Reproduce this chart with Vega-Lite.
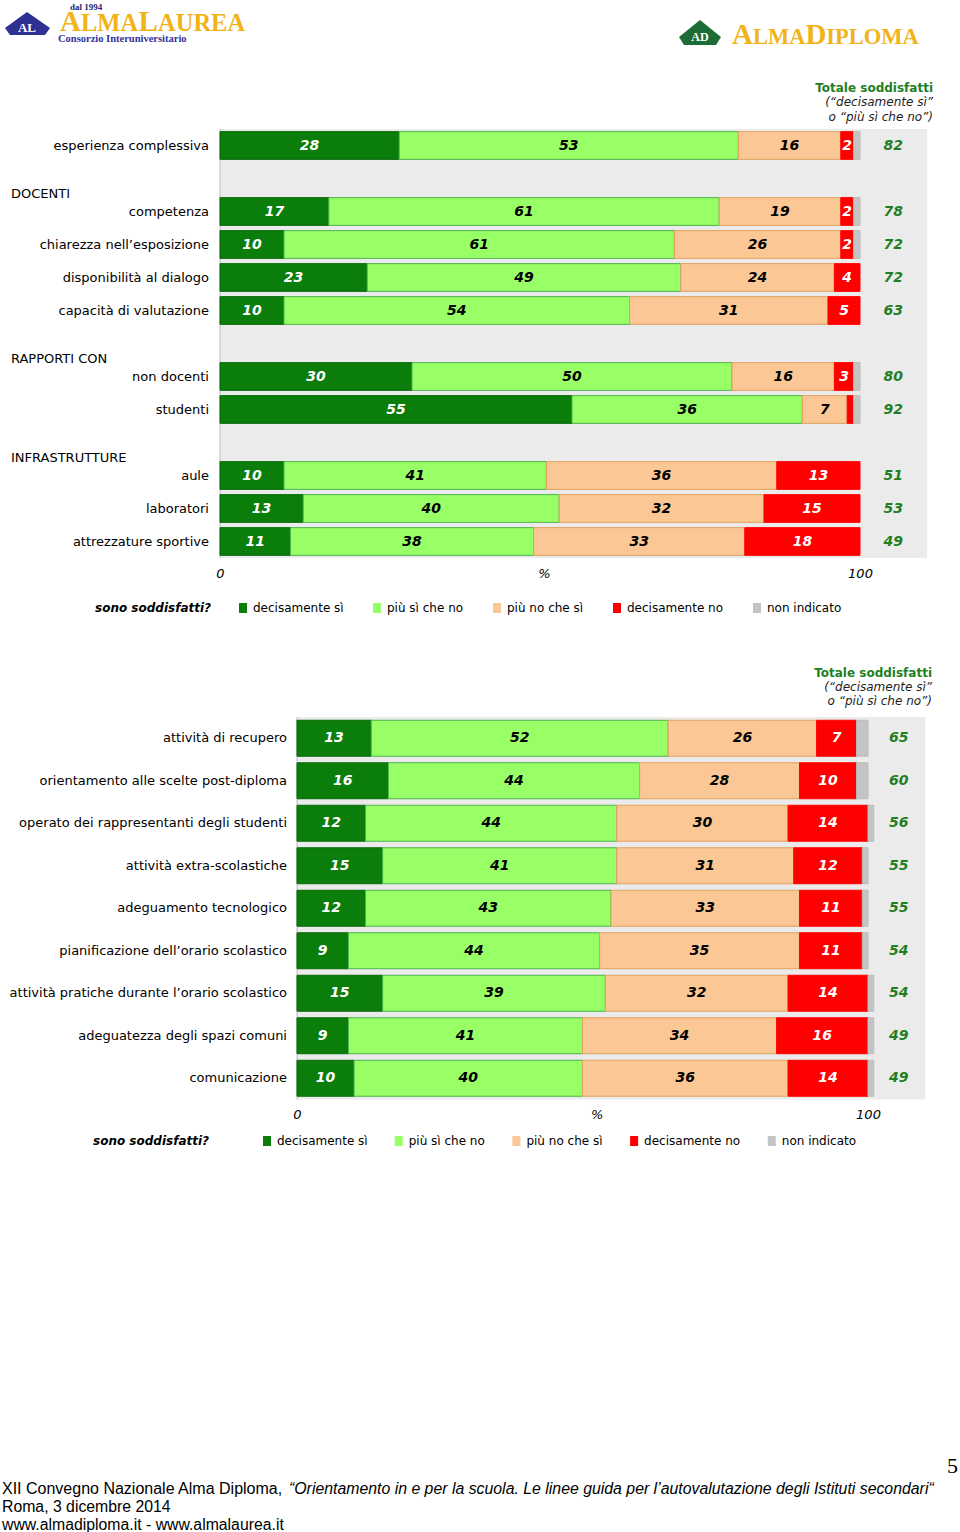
{
  "$schema": "https://vega.github.io/schema/vega-lite/v6.json",
  "padding": 0,
  "spacing": 0,
  "bounds": "flush",
  "background": "white",
  "config": {"view": {"stroke": null}, "font": "DejaVu Sans"},
  "resolve": {
    "scale": {"x": "independent", "y": "independent", "color": "independent", "stroke": "independent"},
    "legend": {"color": "independent"}
  },
  "datasets": {
    "top": [
      {"g": "esperienza complessiva", "c": "decisamente sì", "v": 28},
      {"g": "esperienza complessiva", "c": "più sì che no", "v": 53},
      {"g": "esperienza complessiva", "c": "più no che sì", "v": 16},
      {"g": "esperienza complessiva", "c": "decisamente no", "v": 2},
      {"g": "esperienza complessiva", "c": "non indicato", "v": 1},
      {"g": "competenza", "c": "decisamente sì", "v": 17},
      {"g": "competenza", "c": "più sì che no", "v": 61},
      {"g": "competenza", "c": "più no che sì", "v": 19},
      {"g": "competenza", "c": "decisamente no", "v": 2},
      {"g": "competenza", "c": "non indicato", "v": 1},
      {"g": "chiarezza nell’esposizione", "c": "decisamente sì", "v": 10},
      {"g": "chiarezza nell’esposizione", "c": "più sì che no", "v": 61},
      {"g": "chiarezza nell’esposizione", "c": "più no che sì", "v": 26},
      {"g": "chiarezza nell’esposizione", "c": "decisamente no", "v": 2},
      {"g": "chiarezza nell’esposizione", "c": "non indicato", "v": 1},
      {"g": "disponibilità al dialogo", "c": "decisamente sì", "v": 23},
      {"g": "disponibilità al dialogo", "c": "più sì che no", "v": 49},
      {"g": "disponibilità al dialogo", "c": "più no che sì", "v": 24},
      {"g": "disponibilità al dialogo", "c": "decisamente no", "v": 4},
      {"g": "capacità di valutazione", "c": "decisamente sì", "v": 10},
      {"g": "capacità di valutazione", "c": "più sì che no", "v": 54},
      {"g": "capacità di valutazione", "c": "più no che sì", "v": 31},
      {"g": "capacità di valutazione", "c": "decisamente no", "v": 5},
      {"g": "non docenti", "c": "decisamente sì", "v": 30},
      {"g": "non docenti", "c": "più sì che no", "v": 50},
      {"g": "non docenti", "c": "più no che sì", "v": 16},
      {"g": "non docenti", "c": "decisamente no", "v": 3},
      {"g": "non docenti", "c": "non indicato", "v": 1},
      {"g": "studenti", "c": "decisamente sì", "v": 55},
      {"g": "studenti", "c": "più sì che no", "v": 36},
      {"g": "studenti", "c": "più no che sì", "v": 7},
      {"g": "studenti", "c": "decisamente no", "v": 1},
      {"g": "studenti", "c": "non indicato", "v": 1},
      {"g": "aule", "c": "decisamente sì", "v": 10},
      {"g": "aule", "c": "più sì che no", "v": 41},
      {"g": "aule", "c": "più no che sì", "v": 36},
      {"g": "aule", "c": "decisamente no", "v": 13},
      {"g": "laboratori", "c": "decisamente sì", "v": 13},
      {"g": "laboratori", "c": "più sì che no", "v": 40},
      {"g": "laboratori", "c": "più no che sì", "v": 32},
      {"g": "laboratori", "c": "decisamente no", "v": 15},
      {"g": "attrezzature sportive", "c": "decisamente sì", "v": 11},
      {"g": "attrezzature sportive", "c": "più sì che no", "v": 38},
      {"g": "attrezzature sportive", "c": "più no che sì", "v": 33},
      {"g": "attrezzature sportive", "c": "decisamente no", "v": 18}
    ],
    "topTot": [
      {"g": "esperienza complessiva", "tot": 82},
      {"g": "competenza", "tot": 78},
      {"g": "chiarezza nell’esposizione", "tot": 72},
      {"g": "disponibilità al dialogo", "tot": 72},
      {"g": "capacità di valutazione", "tot": 63},
      {"g": "non docenti", "tot": 80},
      {"g": "studenti", "tot": 92},
      {"g": "aule", "tot": 51},
      {"g": "laboratori", "tot": 53},
      {"g": "attrezzature sportive", "tot": 49}
    ],
    "topHead": [
      {"g": "_s1", "h": "DOCENTI"},
      {"g": "_s2", "h": "RAPPORTI CON"},
      {"g": "_s3", "h": "INFRASTRUTTURE"}
    ],
    "bot": [
      {"g": "attività di recupero", "c": "decisamente sì", "v": 13},
      {"g": "attività di recupero", "c": "più sì che no", "v": 52},
      {"g": "attività di recupero", "c": "più no che sì", "v": 26},
      {"g": "attività di recupero", "c": "decisamente no", "v": 7},
      {"g": "attività di recupero", "c": "non indicato", "v": 2},
      {"g": "orientamento alle scelte post-diploma", "c": "decisamente sì", "v": 16},
      {"g": "orientamento alle scelte post-diploma", "c": "più sì che no", "v": 44},
      {"g": "orientamento alle scelte post-diploma", "c": "più no che sì", "v": 28},
      {"g": "orientamento alle scelte post-diploma", "c": "decisamente no", "v": 10},
      {"g": "orientamento alle scelte post-diploma", "c": "non indicato", "v": 2},
      {"g": "operato dei rappresentanti degli studenti", "c": "decisamente sì", "v": 12},
      {"g": "operato dei rappresentanti degli studenti", "c": "più sì che no", "v": 44},
      {"g": "operato dei rappresentanti degli studenti", "c": "più no che sì", "v": 30},
      {"g": "operato dei rappresentanti degli studenti", "c": "decisamente no", "v": 14},
      {"g": "operato dei rappresentanti degli studenti", "c": "non indicato", "v": 1},
      {"g": "attività extra-scolastiche", "c": "decisamente sì", "v": 15},
      {"g": "attività extra-scolastiche", "c": "più sì che no", "v": 41},
      {"g": "attività extra-scolastiche", "c": "più no che sì", "v": 31},
      {"g": "attività extra-scolastiche", "c": "decisamente no", "v": 12},
      {"g": "attività extra-scolastiche", "c": "non indicato", "v": 1},
      {"g": "adeguamento tecnologico", "c": "decisamente sì", "v": 12},
      {"g": "adeguamento tecnologico", "c": "più sì che no", "v": 43},
      {"g": "adeguamento tecnologico", "c": "più no che sì", "v": 33},
      {"g": "adeguamento tecnologico", "c": "decisamente no", "v": 11},
      {"g": "adeguamento tecnologico", "c": "non indicato", "v": 1},
      {"g": "pianificazione dell’orario scolastico", "c": "decisamente sì", "v": 9},
      {"g": "pianificazione dell’orario scolastico", "c": "più sì che no", "v": 44},
      {"g": "pianificazione dell’orario scolastico", "c": "più no che sì", "v": 35},
      {"g": "pianificazione dell’orario scolastico", "c": "decisamente no", "v": 11},
      {"g": "pianificazione dell’orario scolastico", "c": "non indicato", "v": 1},
      {"g": "attività pratiche durante l’orario scolastico", "c": "decisamente sì", "v": 15},
      {"g": "attività pratiche durante l’orario scolastico", "c": "più sì che no", "v": 39},
      {"g": "attività pratiche durante l’orario scolastico", "c": "più no che sì", "v": 32},
      {"g": "attività pratiche durante l’orario scolastico", "c": "decisamente no", "v": 14},
      {"g": "attività pratiche durante l’orario scolastico", "c": "non indicato", "v": 1},
      {"g": "adeguatezza degli spazi comuni", "c": "decisamente sì", "v": 9},
      {"g": "adeguatezza degli spazi comuni", "c": "più sì che no", "v": 41},
      {"g": "adeguatezza degli spazi comuni", "c": "più no che sì", "v": 34},
      {"g": "adeguatezza degli spazi comuni", "c": "decisamente no", "v": 16},
      {"g": "adeguatezza degli spazi comuni", "c": "non indicato", "v": 1},
      {"g": "comunicazione", "c": "decisamente sì", "v": 10},
      {"g": "comunicazione", "c": "più sì che no", "v": 40},
      {"g": "comunicazione", "c": "più no che sì", "v": 36},
      {"g": "comunicazione", "c": "decisamente no", "v": 14},
      {"g": "comunicazione", "c": "non indicato", "v": 1}
    ],
    "botTot": [
      {"g": "attività di recupero", "tot": 65},
      {"g": "orientamento alle scelte post-diploma", "tot": 60},
      {"g": "operato dei rappresentanti degli studenti", "tot": 56},
      {"g": "attività extra-scolastiche", "tot": 55},
      {"g": "adeguamento tecnologico", "tot": 55},
      {"g": "pianificazione dell’orario scolastico", "tot": 54},
      {"g": "attività pratiche durante l’orario scolastico", "tot": 54},
      {"g": "adeguatezza degli spazi comuni", "tot": 49},
      {"g": "comunicazione", "tot": 49}
    ]
  },
  "vconcat": [
    {
      "width": 960,
      "height": 128.5,
      "encoding": {
        "x": {"field": "side", "type": "nominal", "scale": {"type": "point", "domain": ["left", "right"], "padding": 0}, "axis": null}
      },
      "layer": [
        {"data": {"values": [{"side": "left"}]}, "mark": {"type": "point", "filled": true, "opacity": 1, "size": 2500, "color": "#2E3192", "strokeWidth": 0, "shape": "M1.08,-2.09L2,-1.45L1.8,-1.17L0.4,-1.17L0.2,-1.45Z"}},
        {"data": {"values": [{"side": "right"}]}, "mark": {"type": "point", "filled": true, "opacity": 1, "size": 2500, "color": "#1D6B35", "strokeWidth": 0, "shape": "M-10.4,-1.77L-9.56,-1.09L-9.76,-0.77L-11.04,-0.77L-11.24,-1.09Z"}},
        {"data": {"values": [{"side": "left", "t": "AL"}]}, "mark": {"type": "text", "align": "center", "baseline": "middle", "dx": 27, "dy": -36.5, "font": "Liberation Serif", "fontWeight": "bold", "fontSize": 13, "color": "white"}, "encoding": {"text": {"field": "t"}}},
        {"data": {"values": [{"side": "right", "t": "AD"}]}, "mark": {"type": "text", "align": "center", "baseline": "middle", "dx": -260, "dy": -27, "font": "Liberation Serif", "fontWeight": "bold", "fontSize": 12, "color": "white"}, "encoding": {"text": {"field": "t"}}},
        {"data": {"values": [{"side": "left", "t": "dal 1994"}]}, "mark": {"type": "text", "align": "left", "baseline": "alphabetic", "dx": 70, "dy": -54.75, "font": "Liberation Serif", "fontWeight": "bold", "fontSize": 9, "color": "#26266B"}, "encoding": {"text": {"field": "t"}}},
        {"data": {"values": [{"side": "left", "t": "A"}]}, "mark": {"type": "text", "align": "left", "baseline": "alphabetic", "dx": 60, "dy": -33.25, "font": "Liberation Serif", "fontWeight": "bold", "fontSize": 29, "color": "#F2B318"}, "encoding": {"text": {"field": "t"}}},
        {"data": {"values": [{"side": "left", "t": "LMA"}]}, "mark": {"type": "text", "align": "left", "baseline": "alphabetic", "dx": 81, "dy": -33.25, "font": "Liberation Serif", "fontWeight": "bold", "fontSize": 24.5, "color": "#F2B318"}, "encoding": {"text": {"field": "t"}}},
        {"data": {"values": [{"side": "left", "t": "L"}]}, "mark": {"type": "text", "align": "left", "baseline": "alphabetic", "dx": 138.5, "dy": -33.25, "font": "Liberation Serif", "fontWeight": "bold", "fontSize": 29, "color": "#F2B318"}, "encoding": {"text": {"field": "t"}}},
        {"data": {"values": [{"side": "left", "t": "AUREA"}]}, "mark": {"type": "text", "align": "left", "baseline": "alphabetic", "dx": 158, "dy": -33.25, "font": "Liberation Serif", "fontWeight": "bold", "fontSize": 24.5, "color": "#F2B318"}, "encoding": {"text": {"field": "t"}}},
        {"data": {"values": [{"side": "left", "t": "Consorzio Interuniversitario"}]}, "mark": {"type": "text", "align": "left", "baseline": "alphabetic", "dx": 58, "dy": -22, "font": "Liberation Serif", "fontWeight": "bold", "fontSize": 10.5, "color": "#333399"}, "encoding": {"text": {"field": "t"}}},
        {"data": {"values": [{"side": "right", "t": "A"}]}, "mark": {"type": "text", "align": "left", "baseline": "alphabetic", "dx": -228, "dy": -20.25, "font": "Liberation Serif", "fontWeight": "bold", "fontSize": 29, "color": "#F2B318"}, "encoding": {"text": {"field": "t"}}},
        {"data": {"values": [{"side": "right", "t": "LMA"}]}, "mark": {"type": "text", "align": "left", "baseline": "alphabetic", "dx": -207.1, "dy": -20.25, "font": "Liberation Serif", "fontWeight": "bold", "fontSize": 22.5, "color": "#F2B318"}, "encoding": {"text": {"field": "t"}}},
        {"data": {"values": [{"side": "right", "t": "D"}]}, "mark": {"type": "text", "align": "left", "baseline": "alphabetic", "dx": -154.6, "dy": -20.25, "font": "Liberation Serif", "fontWeight": "bold", "fontSize": 29, "color": "#F2B318"}, "encoding": {"text": {"field": "t"}}},
        {"data": {"values": [{"side": "right", "t": "IPLOMA"}]}, "mark": {"type": "text", "align": "left", "baseline": "alphabetic", "dx": -133.7, "dy": -20.25, "font": "Liberation Serif", "fontWeight": "bold", "fontSize": 22.5, "color": "#F2B318"}, "encoding": {"text": {"field": "t"}}}
      ]
    },
    {
      "width": 960,
      "height": 429,
      "title": {
        "text": "Totale soddisfatti",
        "subtitle": ["(“decisamente sì”", "o “più sì che no”)"],
        "anchor": "end", "frame": "group", "orient": "top", "dx": -27, "offset": 5,
        "font": "DejaVu Sans", "fontSize": 12, "fontWeight": "bold", "color": "#1F7F1F",
        "subtitleFont": "DejaVu Sans", "subtitleFontSize": 12, "subtitleFontStyle": "italic", "subtitleColor": "#222222",
        "subtitlePadding": 2, "subtitleLineHeight": 14.5
      },
      "layer": [
        {"data": {"values": [{}]}, "mark": {"type": "rect", "color": "#EBEBEB"}, "encoding": {"x": {"datum": 0}, "x2": {"datum": 110.5}}},
        {"data": {"values": [{}]}, "mark": {"type": "rule", "color": "#BDBDBD", "strokeWidth": 1}, "encoding": {"x": {"datum": 0}}},
        {
          "data": {"name": "top"},
          "transform": [
            {"calculate": "indexof(['decisamente sì','più sì che no','più no che sì','decisamente no','non indicato'], datum.c)", "as": "o"},
            {"stack": "v", "groupby": ["g"], "sort": [{"field": "o", "order": "ascending"}], "as": ["v0", "v1"]}
          ],
          "mark": {"type": "bar", "strokeWidth": 1},
          "encoding": {
            "y": {"field": "g", "type": "nominal", "scale": {"domain": ["esperienza complessiva", "_s1", "competenza", "chiarezza nell’esposizione", "disponibilità al dialogo", "capacità di valutazione", "_s2", "non docenti", "studenti", "_s3", "aule", "laboratori", "attrezzature sportive"], "paddingInner": 0.16, "paddingOuter": 0.08}, "axis": null},
            "x": {"field": "v0", "type": "quantitative", "scale": {"domain": [-34.375, 115.625], "nice": false, "zero": false},
              "axis": {"values": [0, 50.6, 100], "labelExpr": "datum.value == 0 ? '0' : datum.value == 100 ? '100' : '%'", "title": null, "grid": false, "domain": false, "ticks": false, "labelPadding": 9, "labelFont": "DejaVu Sans", "labelFontSize": 13, "labelFontStyle": "italic", "labelColor": "black"}},
            "x2": {"field": "v1"},
            "color": {"field": "c", "type": "nominal",
              "scale": {"domain": ["decisamente sì", "più sì che no", "più no che sì", "decisamente no", "non indicato"], "range": ["#0A7D0A", "#99FF66", "#FBC794", "#FF0000", "#C4C4C4"]},
              "legend": {"orient": "none", "legendX": 95, "legendY": 473, "direction": "horizontal", "title": "sono soddisfatti?", "titleOrient": "left", "titleFont": "DejaVu Sans", "titleFontSize": 12, "titleFontWeight": "bold", "titleFontStyle": "italic", "titleColor": "black", "titlePadding": 25, "labelFont": "DejaVu Sans", "labelFontSize": 12, "labelColor": "black", "symbolType": "M-0.8,-1H0.8V1H-0.8Z", "symbolSize": 100, "symbolStrokeWidth": 0, "labelOffset": 4, "columnPadding": 27}},
            "stroke": {"field": "c", "type": "nominal",
              "scale": {"domain": ["decisamente sì", "più sì che no", "più no che sì", "decisamente no", "non indicato"], "range": ["#076A07", "#4CB34C", "#E3A15E", "#FF0000", "#BBBBBB"]},
              "legend": null}
          }
        },
        {
          "data": {"name": "top"},
          "transform": [
            {"calculate": "indexof(['decisamente sì','più sì che no','più no che sì','decisamente no','non indicato'], datum.c)", "as": "o"},
            {"stack": "v", "groupby": ["g"], "sort": [{"field": "o", "order": "ascending"}], "as": ["v0", "v1"]},
            {"calculate": "(datum.v0 + datum.v1) / 2", "as": "m"},
            {"filter": "datum.v >= 2 && datum.c != 'non indicato'"}
          ],
          "mark": {"type": "text", "align": "center", "baseline": "middle", "font": "DejaVu Sans", "fontSize": 14, "fontWeight": "bold", "fontStyle": "italic"},
          "encoding": {
            "y": {"field": "g", "type": "nominal"},
            "x": {"field": "m", "type": "quantitative"},
            "text": {"field": "v"},
            "color": {"condition": {"test": "datum.c == 'decisamente sì' || datum.c == 'decisamente no'", "value": "white"}, "value": "black"}
          }
        },
        {
          "data": {"name": "topTot"},
          "mark": {"type": "text", "align": "right", "baseline": "middle", "font": "DejaVu Sans", "fontSize": 13, "color": "black"},
          "encoding": {"x": {"datum": -1.72}, "y": {"field": "g", "type": "nominal"}, "text": {"field": "g"}}
        },
        {
          "data": {"name": "topHead"},
          "mark": {"type": "text", "align": "left", "baseline": "middle", "dy": 15, "font": "DejaVu Sans", "fontSize": 13, "color": "black"},
          "encoding": {"x": {"datum": -32.66}, "y": {"field": "g", "type": "nominal"}, "text": {"field": "h"}}
        },
        {
          "data": {"name": "topTot"},
          "mark": {"type": "text", "align": "center", "baseline": "middle", "font": "DejaVu Sans", "fontSize": 14, "fontWeight": "bold", "fontStyle": "italic", "color": "#1F7F1F"},
          "encoding": {"x": {"datum": 105.2}, "y": {"field": "g", "type": "nominal"}, "text": {"field": "tot"}}
        }
      ]
    },
    {
      "width": 960,
      "height": 158.25,
      "data": {"values": [{}]},
      "mark": "text",
      "encoding": {"text": {"value": ""}}
    },
    {
      "width": 960,
      "height": 382.5,
      "title": {
        "text": "Totale soddisfatti",
        "subtitle": ["(“decisamente sì”", "o “più sì che no”)"],
        "anchor": "end", "frame": "group", "orient": "top", "dx": -28, "offset": 9,
        "font": "DejaVu Sans", "fontSize": 12, "fontWeight": "bold", "color": "#1F7F1F",
        "subtitleFont": "DejaVu Sans", "subtitleFontSize": 12, "subtitleFontStyle": "italic", "subtitleColor": "#222222",
        "subtitlePadding": 2, "subtitleLineHeight": 14
      },
      "layer": [
        {"data": {"values": [{}]}, "mark": {"type": "rect", "color": "#EBEBEB"}, "encoding": {"x": {"datum": 0}, "x2": {"datum": 110}}},
        {"data": {"values": [{}]}, "mark": {"type": "rule", "color": "#BDBDBD", "strokeWidth": 1}, "encoding": {"x": {"datum": 0}}},
        {
          "data": {"name": "bot"},
          "transform": [
            {"calculate": "indexof(['decisamente sì','più sì che no','più no che sì','decisamente no','non indicato'], datum.c)", "as": "o"},
            {"stack": "v", "groupby": ["g"], "sort": [{"field": "o", "order": "ascending"}], "as": ["v0", "v1"]}
          ],
          "mark": {"type": "bar", "strokeWidth": 1},
          "encoding": {
            "y": {"field": "g", "type": "nominal", "scale": {"domain": ["attività di recupero", "orientamento alle scelte post-diploma", "operato dei rappresentanti degli studenti", "attività extra-scolastiche", "adeguamento tecnologico", "pianificazione dell’orario scolastico", "attività pratiche durante l’orario scolastico", "adeguatezza degli spazi comuni", "comunicazione"], "paddingInner": 0.153, "paddingOuter": 0.0765}, "axis": null},
            "x": {"field": "v0", "type": "quantitative", "scale": {"domain": [-52.01, 116.11], "nice": false, "zero": false},
              "axis": {"values": [0, 52.5, 100], "labelExpr": "datum.value == 0 ? '0' : datum.value == 100 ? '100' : '%'", "title": null, "grid": false, "domain": false, "ticks": false, "labelPadding": 9, "labelFont": "DejaVu Sans", "labelFontSize": 13, "labelFontStyle": "italic", "labelColor": "black"}},
            "x2": {"field": "v1"},
            "color": {"field": "c", "type": "nominal",
              "scale": {"domain": ["decisamente sì", "più sì che no", "più no che sì", "decisamente no", "non indicato"], "range": ["#0A7D0A", "#99FF66", "#FBC794", "#FF0000", "#C4C4C4"]},
              "legend": {"orient": "none", "legendX": 93, "legendY": 418, "direction": "horizontal", "title": "sono soddisfatti?", "titleOrient": "left", "titleFont": "DejaVu Sans", "titleFontSize": 12, "titleFontWeight": "bold", "titleFontStyle": "italic", "titleColor": "black", "titlePadding": 51, "labelFont": "DejaVu Sans", "labelFontSize": 12, "labelColor": "black", "symbolType": "M-0.8,-1H0.8V1H-0.8Z", "symbolSize": 100, "symbolStrokeWidth": 0, "labelOffset": 4, "columnPadding": 24.7}},
            "stroke": {"field": "c", "type": "nominal",
              "scale": {"domain": ["decisamente sì", "più sì che no", "più no che sì", "decisamente no", "non indicato"], "range": ["#076A07", "#4CB34C", "#E3A15E", "#FF0000", "#BBBBBB"]},
              "legend": null}
          }
        },
        {
          "data": {"name": "bot"},
          "transform": [
            {"calculate": "indexof(['decisamente sì','più sì che no','più no che sì','decisamente no','non indicato'], datum.c)", "as": "o"},
            {"stack": "v", "groupby": ["g"], "sort": [{"field": "o", "order": "ascending"}], "as": ["v0", "v1"]},
            {"calculate": "(datum.v0 + datum.v1) / 2", "as": "m"},
            {"filter": "datum.v >= 2 && datum.c != 'non indicato'"}
          ],
          "mark": {"type": "text", "align": "center", "baseline": "middle", "font": "DejaVu Sans", "fontSize": 14, "fontWeight": "bold", "fontStyle": "italic"},
          "encoding": {
            "y": {"field": "g", "type": "nominal"},
            "x": {"field": "m", "type": "quantitative"},
            "text": {"field": "v"},
            "color": {"condition": {"test": "datum.c == 'decisamente sì' || datum.c == 'decisamente no'", "value": "white"}, "value": "black"}
          }
        },
        {
          "data": {"name": "botTot"},
          "mark": {"type": "text", "align": "right", "baseline": "middle", "font": "DejaVu Sans", "fontSize": 13, "color": "black"},
          "encoding": {"x": {"datum": -1.75}, "y": {"field": "g", "type": "nominal"}, "text": {"field": "g"}}
        },
        {
          "data": {"name": "botTot"},
          "mark": {"type": "text", "align": "center", "baseline": "middle", "font": "DejaVu Sans", "fontSize": 14, "fontWeight": "bold", "fontStyle": "italic", "color": "#1F7F1F"},
          "encoding": {"x": {"datum": 105.4}, "y": {"field": "g", "type": "nominal"}, "text": {"field": "tot"}}
        }
      ]
    },
    {
      "width": 960,
      "height": 433.75,
      "encoding": {
        "x": {"field": "side", "type": "nominal", "scale": {"type": "point", "domain": ["left", "right"], "padding": 0}, "axis": null}
      },
      "layer": [
        {"data": {"values": [{"side": "right", "t": "5"}]}, "mark": {"type": "text", "align": "right", "baseline": "middle", "dx": -2, "dy": 148.9, "font": "Liberation Serif", "fontSize": 22, "color": "black"}, "encoding": {"text": {"field": "t"}}},
        {"data": {"values": [{"side": "left", "t": "XII Convegno Nazionale Alma Diploma,"}]}, "mark": {"type": "text", "align": "left", "baseline": "middle", "dx": 2, "dy": 171.9, "font": "Liberation Sans", "fontSize": 16, "color": "black"}, "encoding": {"text": {"field": "t"}}},
        {"data": {"values": [{"side": "left", "t": "“Orientamento in e per la scuola. Le linee guida per l’autovalutazione degli Istituti secondari“"}]}, "mark": {"type": "text", "align": "left", "baseline": "middle", "dx": 289, "dy": 171.9, "font": "Liberation Sans", "fontSize": 15.85, "fontStyle": "italic", "color": "black"}, "encoding": {"text": {"field": "t"}}},
        {"data": {"values": [{"side": "left", "t": "Roma, 3 dicembre 2014"}]}, "mark": {"type": "text", "align": "left", "baseline": "middle", "dx": 2, "dy": 189.9, "font": "Liberation Sans", "fontSize": 15.8, "color": "black"}, "encoding": {"text": {"field": "t"}}},
        {"data": {"values": [{"side": "left", "t": "www.almadiploma.it - www.almalaurea.it"}]}, "mark": {"type": "text", "align": "left", "baseline": "middle", "dx": 2, "dy": 207.9, "font": "Liberation Sans", "fontSize": 15.8, "color": "black"}, "encoding": {"text": {"field": "t"}}}
      ]
    }
  ]
}
